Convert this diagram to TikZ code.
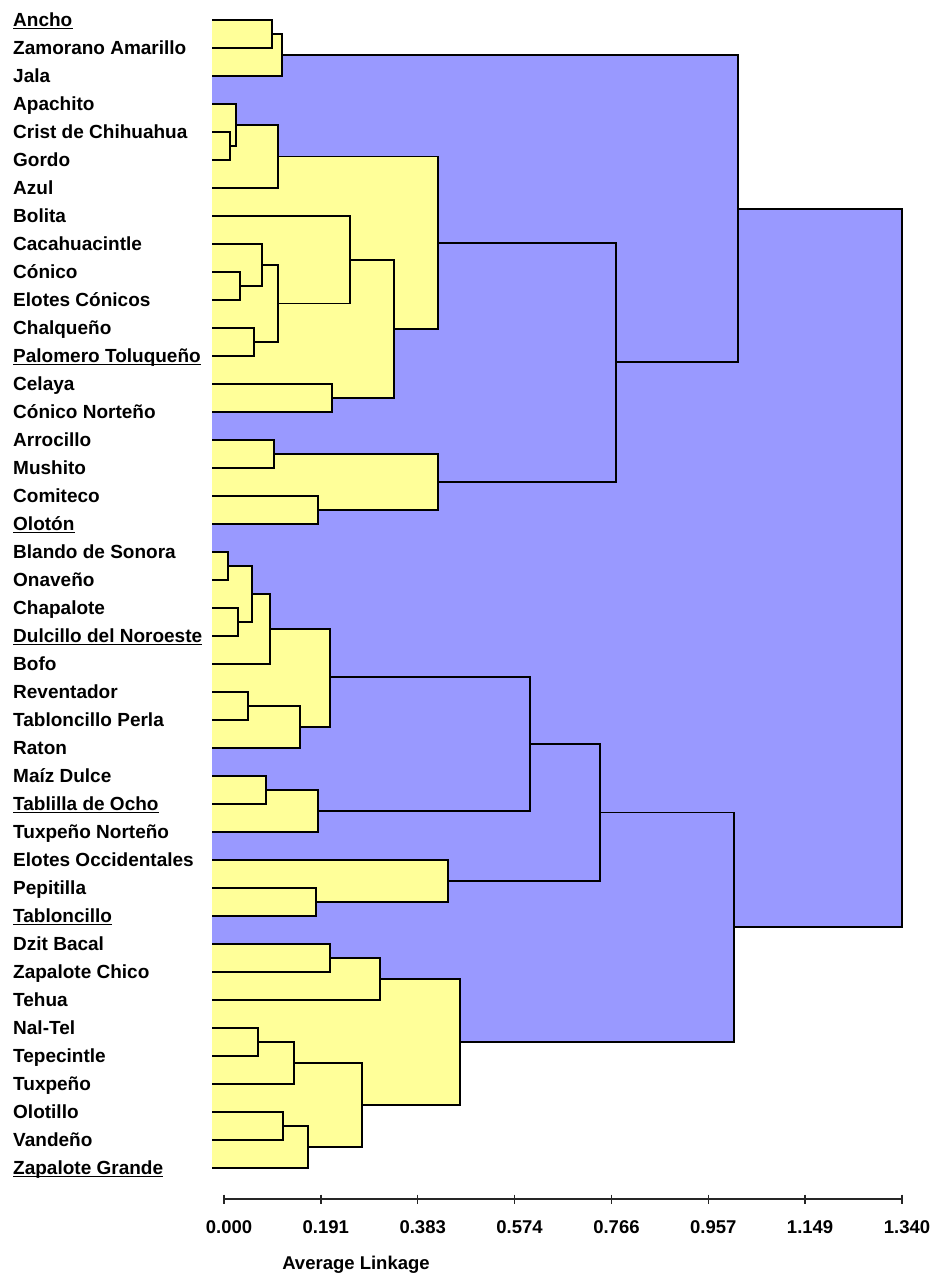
\documentclass[tikz,border=0pt]{standalone}
\usepackage{fontspec}
\setmainfont{Liberation Sans}
\usetikzlibrary{calc}
\definecolor{yel}{HTML}{FFFF99}
\definecolor{blu}{HTML}{9999FF}
\begin{document}
\begin{tikzpicture}[x=1pt,y=-1pt,
  lab/.style={anchor=base west,inner sep=0pt,font=\fontsize{19}{19}\selectfont\bfseries},
  axlab/.style={anchor=base,inner sep=0pt,font=\fontsize{18.5}{18.5}\selectfont\bfseries},
  link/.style={line width=1.9pt},
  axline/.style={line width=1.5pt,draw=black!85},
  uline/.style={line width=1.4pt}]
\useasboundingbox (0,0) rectangle (935,1278);
\coordinate (L) at (212,0);
% leaves and labels
\foreach \i/\t/\u in {0/Ancho/1, 1/Zamorano Amarillo/0, 2/Jala/0, 3/Apachito/0,
  4/Crist de Chihuahua/0, 5/Gordo/0, 6/Azul/0, 7/Bolita/0, 8/Cacahuacintle/0,
  9/Cónico/0, 10/Elotes Cónicos/0, 11/Chalqueño/0, 12/Palomero Toluqueño/1,
  13/Celaya/0, 14/Cónico Norteño/0, 15/Arrocillo/0, 16/Mushito/0, 17/Comiteco/0,
  18/Olotón/1, 19/Blando de Sonora/0, 20/Onaveño/0, 21/Chapalote/0,
  22/Dulcillo del Noroeste/1, 23/Bofo/0, 24/Reventador/0, 25/Tabloncillo Perla/0,
  26/Raton/0, 27/Maíz Dulce/0, 28/Tablilla de Ocho/1, 29/Tuxpeño Norteño/0,
  30/Elotes Occidentales/0, 31/Pepitilla/0, 32/Tabloncillo/1, 33/Dzit Bacal/0,
  34/Zapalote Chico/0, 35/Tehua/0, 36/Nal-Tel/0, 37/Tepecintle/0, 38/Tuxpeño/0,
  39/Olotillo/0, 40/Vandeño/0, 41/Zapalote Grande/1}{
  \coordinate (v\i) at (212,20+28*\i);
  \node[lab] (t\i) at (13,26.5+28*\i) {\t};
  \ifnum\u=1 \draw[uline] ([yshift=-2.2pt]t\i.base west) -- ([yshift=-2.2pt]t\i.base east);\fi
}
% merge points (height, vertical position)
\coordinate (a1) at (272,34);
\coordinate (a2) at (282,55);
\coordinate (b1) at (230,146);
\coordinate (b2) at (236,125);
\coordinate (b3) at (278,156.5);
\coordinate (c1) at (240,286);
\coordinate (c2) at (262,265);
\coordinate (c3) at (254,342);
\coordinate (c4) at (278,303.5);
\coordinate (c5) at (350,259.75);
\coordinate (c6) at (332,398);
\coordinate (c7) at (394,328.88);
\coordinate (d1) at (438,242.69);
\coordinate (e1) at (274,454);
\coordinate (e2) at (318,510);
\coordinate (e3) at (438,482);
\coordinate (f1) at (616,362.34);
\coordinate (g1) at (738,208.67);
\coordinate (h1) at (228,566);
\coordinate (h2) at (238,622);
\coordinate (h3) at (252,594);
\coordinate (h4) at (270,629);
\coordinate (h5) at (248,706);
\coordinate (h6) at (300,727);
\coordinate (h7) at (330,677);
\coordinate (i1) at (266,790);
\coordinate (i2) at (318,811);
\coordinate (j1) at (530,744);
\coordinate (k1) at (316,902);
\coordinate (k2) at (448,881);
\coordinate (p1) at (600,812.5);
\coordinate (m1) at (330,958);
\coordinate (m2) at (380,979);
\coordinate (m3) at (258,1042);
\coordinate (m4) at (294,1063);
\coordinate (m5) at (283,1126);
\coordinate (m6) at (308,1147);
\coordinate (m7) at (362,1105);
\coordinate (m8) at (460,1042);
\coordinate (n1) at (734,927.25);
\coordinate (r) at (902,567.96);
\def\blueM{r/g1/n1, g1/a2/f1, f1/d1/e3, n1/p1/m8, p1/j1/k2, j1/h7/i2}
\def\yelM{a1/v0/v1, a2/a1/v2, b1/v4/v5, b2/v3/b1, b3/b2/v6, c1/v9/v10, c2/v8/c1,
  c3/v11/v12, c4/c2/c3, c5/v7/c4, c6/v13/v14, c7/c5/c6, d1/b3/c7, e1/v15/v16,
  e2/v17/v18, e3/e1/e2, h1/v19/v20, h2/v21/v22, h3/h1/h2, h4/h3/v23, h5/v24/v25,
  h6/h5/v26, h7/h4/h6, i1/v27/v28, i2/i1/v29, k1/v31/v32, k2/v30/k1, m1/v33/v34,
  m2/m1/v35, m3/v36/v37, m4/m3/v38, m5/v39/v40, m6/m5/v41, m7/m4/m6, m8/m2/m7}
% fills
\foreach \n/\a/\b in \blueM { \fill[blu] (L |- \a) rectangle (\n |- \b); }
\foreach \n/\a/\b in \yelM { \fill[yel] (L |- \a) rectangle (\n |- \b); }
% links
\foreach \n/\a/\b in \blueM { \draw[link] (\a) -- (\n |- \a) -- (\n |- \b) -- (\b); }
\foreach \n/\a/\b in \yelM { \draw[link] (\a) -- (\n |- \a) -- (\n |- \b) -- (\b); }
% axis
\coordinate (ax0) at (224,1199);
\coordinate (ax1) at (902,1199);
\draw[axline] (ax0) -- (ax1);
\foreach \k/\v in {0/0.000, 1/0.191, 2/0.383, 3/0.574, 4/0.766, 5/0.957, 6/1.149, 7/1.340}{
  \coordinate (tk\k) at ($(ax0)!\k/7!(ax1)$);
  \draw[axline] ([yshift=4.5pt]tk\k) -- ([yshift=-4.5pt]tk\k);
  \node[axlab] (tl\k) at ([xshift=5pt,yshift=-34.5pt]tk\k) {\v};
}
\node[axlab] (title) at (356,1269.5) {Average Linkage};
\end{tikzpicture}
\end{document}
